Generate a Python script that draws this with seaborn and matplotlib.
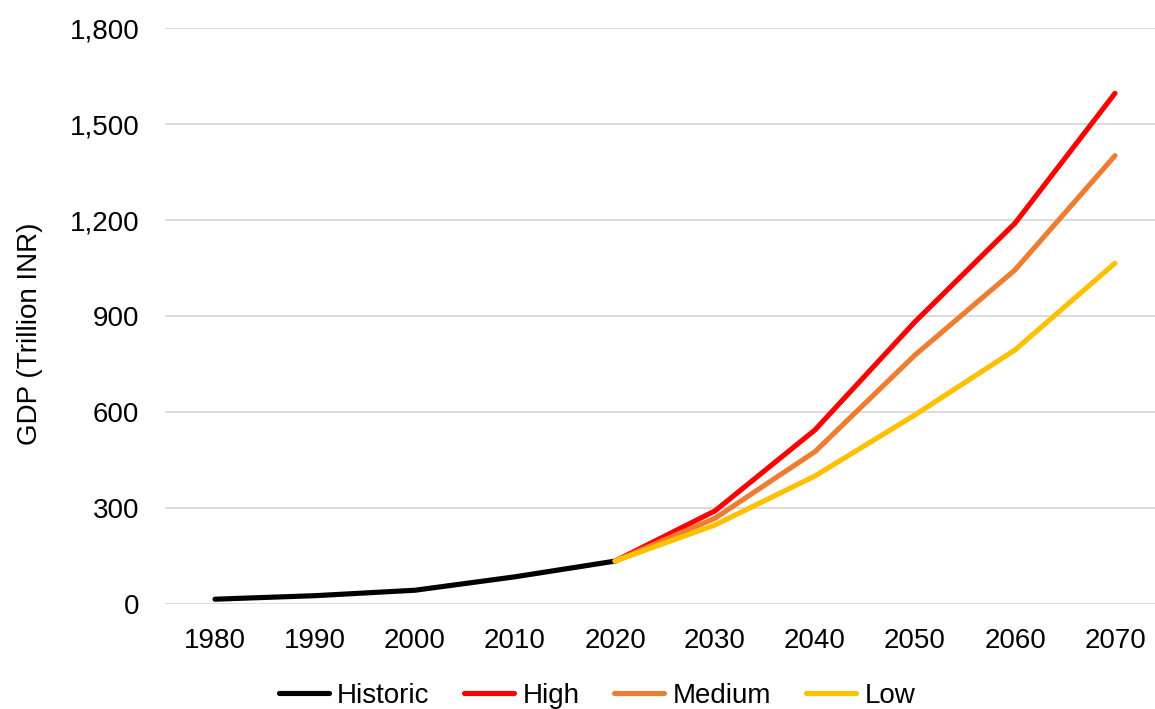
import matplotlib
matplotlib.use("Agg")
import matplotlib.pyplot as plt
import seaborn as sns
import pandas as pd
from matplotlib.ticker import FuncFormatter

# GDP history and projection scenarios (trillion INR)
hist_years = [1980, 1990, 2000, 2010, 2020]
hist_gdp = [15, 26, 43, 85, 134]

proj_years = [2020, 2030, 2040, 2050, 2060, 2070]
high_gdp = [134, 291, 544, 882, 1190, 1596]
medium_gdp = [134, 268, 476, 778, 1044, 1401]
low_gdp = [134, 247, 400, 591, 794, 1065]

series_names = ["Historic", "High", "Medium", "Low"]
series_colors = ["#000000", "#FF0000", "#ED7D31", "#FFC000"]
y_ticks = [0, 300, 600, 900, 1200, 1500, 1800]
x_ticks = [1980, 1990, 2000, 2010, 2020, 2030, 2040, 2050, 2060, 2070]

frames = [
    pd.DataFrame({"Year": hist_years, "GDP": hist_gdp, "Series": "Historic"}),
    pd.DataFrame({"Year": proj_years, "GDP": high_gdp, "Series": "High"}),
    pd.DataFrame({"Year": proj_years, "GDP": medium_gdp, "Series": "Medium"}),
    pd.DataFrame({"Year": proj_years, "GDP": low_gdp, "Series": "Low"}),
]
df = pd.concat(frames, ignore_index=True)

sns.set_theme(style="white")
plt.rcParams["font.family"] = ["Liberation Sans", "DejaVu Sans"]

FS = 20
W, H = 1155, 709
fig = plt.figure(figsize=(W / 100, H / 100), dpi=100)
ax = fig.add_axes([165 / W, 1 - 604 / H, (1165 - 165) / W, (604 - 28) / H])

sns.lineplot(
    data=df, x="Year", y="GDP", hue="Series",
    hue_order=series_names, palette=dict(zip(series_names, series_colors)),
    linewidth=3.7, ax=ax, legend=True, sort=False,
)
for line in ax.lines:
    line.set_solid_capstyle("round")
    line.set_solid_joinstyle("round")

ax.set_xlim(1975, 2075)
ax.set_ylim(0, 1800)
ax.set_yticks(y_ticks)
ax.set_xticks(x_ticks)
ax.yaxis.set_major_formatter(FuncFormatter(lambda v, p: f"{int(v):,}"))
ax.tick_params(axis="both", labelsize=FS, length=0, colors="#000000")
ax.tick_params(axis="x", pad=17)
ax.tick_params(axis="y", pad=18.5)
ax.grid(axis="y", color="#d9d9d9", linewidth=1.3)
ax.set_axisbelow(True)
for side in ["top", "right", "left", "bottom"]:
    ax.spines[side].set_visible(False)
ax.set_xlabel("")
ax.set_ylabel("GDP (Trillion INR)", fontsize=FS, color="#000000")
ax.yaxis.set_label_coords((43 - 165) / 1000, (604 - 334) / 576)

handles, labels = ax.get_legend_handles_labels()
leg = ax.legend(
    handles, labels, loc="center", ncol=4, frameon=False, fontsize=FS,
    handlelength=1.8, handletextpad=0.3, columnspacing=1.25,
    bbox_to_anchor=(597 / W, 1 - 696 / H), bbox_transform=fig.transFigure,
)
for lh in leg.get_lines():
    lh.set_linewidth(3.7)
    lh.set_solid_capstyle("round")
for t in leg.get_texts():
    t.set_color("#000000")

fig.savefig("out.png", dpi=100)
